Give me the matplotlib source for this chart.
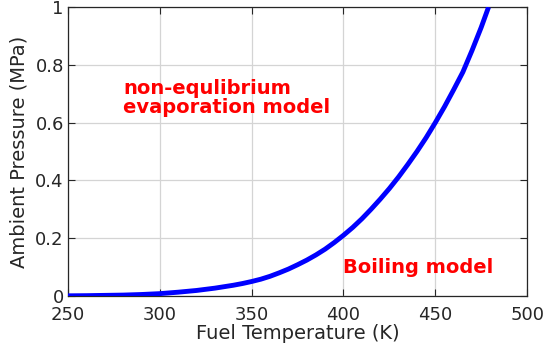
import numpy as np
import matplotlib.pyplot as plt

# fuel temperature (K) and ambient pressure (MPa)
temp = [250, 260, 270, 280, 290, 300, 310, 320, 330, 340, 345, 350, 355,
        360, 365, 370, 375, 380, 385, 390, 395, 400, 405, 410, 415, 420,
        425, 430, 435, 440, 445, 450, 455, 460, 465, 470, 475, 479]
pres = [0.0005, 0.001, 0.002, 0.003, 0.005, 0.008, 0.013, 0.019, 0.027,
        0.037, 0.043, 0.05, 0.058, 0.068, 0.08, 0.093, 0.108, 0.124, 0.142,
        0.162, 0.185, 0.21, 0.237, 0.267, 0.3, 0.335, 0.372, 0.412, 0.455,
        0.5, 0.548, 0.6, 0.655, 0.714, 0.775, 0.85, 0.93, 1.0]

xticks = [250, 300, 350, 400, 450, 500]
yticks = [0, 0.2, 0.4, 0.6, 0.8, 1]
ytick_labels = ["0", "0.2", "0.4", "0.6", "0.8", "1"]

txt_col = "#262626"

fig = plt.figure(figsize=(5.44, 3.54), dpi=100)
ax = fig.add_axes([0.125, 0.164, 0.844, 0.816])

ax.plot(temp, pres, color="#0000ff", lw=3.5, solid_capstyle="butt",
        solid_joinstyle="round", zorder=3)

ax.set_xlim(250, 500)
ax.set_ylim(0, 1)
ax.set_xticks(xticks)
ax.set_yticks(yticks)
ax.set_yticklabels(ytick_labels)
ax.grid(True, color="#d4d4d4", lw=0.9)
ax.tick_params(direction="in", top=True, right=True, length=5, width=0.8,
               labelsize=13, colors=txt_col)
ax.tick_params(axis="x", pad=7.5)
ax.tick_params(axis="y", pad=3)
for s in ax.spines.values():
    s.set_color(txt_col)
    s.set_linewidth(0.9)

ax.set_xlabel("Fuel Temperature (K)", fontsize=14, color=txt_col, labelpad=0)
ax.set_ylabel("Ambient Pressure (MPa)", fontsize=14, color=txt_col, labelpad=5)

ax.text(280, 0.685, "non-equlibrium\nevaporation model", color="red",
        fontsize=14, fontweight="bold", ha="left", va="center", linespacing=0.95)
ax.text(400, 0.097, "Boiling model", color="red", fontsize=14,
        fontweight="bold", ha="left", va="center")

fig.savefig("out.png", dpi=100)
